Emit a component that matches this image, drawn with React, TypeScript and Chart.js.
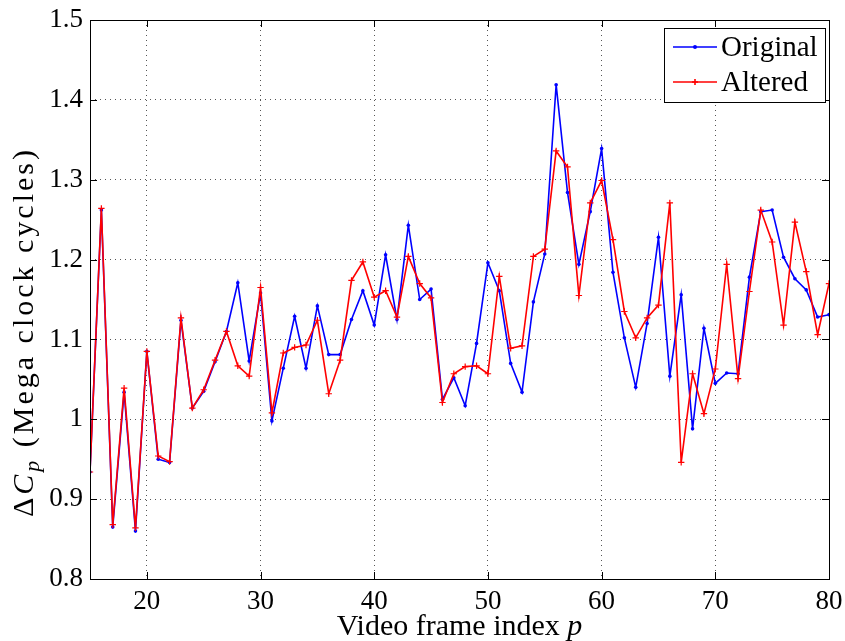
import React, { useEffect, useRef } from "react";
import { Chart, registerables } from "chart.js";

Chart.register(...registerables);

const frames = [15, 16, 17, 18, 19, 20, 21, 22, 23, 24, 25, 26, 27, 28, 29, 30, 31, 32, 33, 34, 35, 36, 37, 38, 39, 40, 41, 42, 43, 44, 45, 46, 47, 48, 49, 50, 51, 52, 53, 54, 55, 56, 57, 58, 59, 60, 61, 62, 63, 64, 65, 66, 67, 68, 69, 70, 71, 72, 73, 74, 75, 76, 77, 78, 79, 80];

const original = [0.934, 1.262, 0.865, 1.034, 0.860, 1.085, 0.950, 0.946, 1.124, 1.014, 1.035, 1.072, 1.110, 1.171, 1.073, 1.158, 0.998, 1.064, 1.129, 1.064, 1.142, 1.081, 1.081, 1.125, 1.161, 1.118, 1.206, 1.125, 1.243, 1.150, 1.163, 1.025, 1.052, 1.017, 1.095, 1.196, 1.161, 1.070, 1.034, 1.147, 1.207, 1.419, 1.284, 1.194, 1.260, 1.339, 1.184, 1.102, 1.040, 1.120, 1.228, 1.054, 1.156, 0.988, 1.114, 1.045, 1.058, 1.057, 1.178, 1.260, 1.262, 1.203, 1.176, 1.162, 1.128, 1.131];

const altered = [0.934, 1.264, 0.868, 1.039, 0.864, 1.085, 0.954, 0.947, 1.127, 1.014, 1.037, 1.074, 1.110, 1.067, 1.054, 1.165, 1.008, 1.083, 1.090, 1.093, 1.124, 1.032, 1.074, 1.174, 1.197, 1.153, 1.161, 1.128, 1.204, 1.170, 1.152, 1.021, 1.057, 1.066, 1.067, 1.057, 1.179, 1.089, 1.092, 1.204, 1.213, 1.336, 1.316, 1.155, 1.271, 1.299, 1.225, 1.135, 1.102, 1.127, 1.143, 1.271, 0.946, 1.057, 1.007, 1.063, 1.194, 1.051, 1.160, 1.262, 1.222, 1.118, 1.247, 1.185, 1.106, 1.170];

const xTicks = [20, 30, 40, 50, 60, 70, 80];
const yTicks = [0.8, 0.9, 1.0, 1.1, 1.2, 1.3, 1.4, 1.5];
const seriesNames = ["Original", "Altered"];
const xTitle = "Video frame index ";
const xTitleVar = "p";
const yTitleParts = ["\u0394", "C", "p", " (Mega clock cycles)"];

const SERIF = "'Liberation Serif', 'Times New Roman', serif";

const overlayPlugin = {
  id: "overlay",
  afterDraw(chart: any) {
    const ctx = chart.ctx as CanvasRenderingContext2D;
    const { left, right, top, bottom } = chart.chartArea;
    const xs = chart.scales.x;
    const ys = chart.scales.y;
    ctx.save();
    ctx.strokeStyle = "#000";
    ctx.lineWidth = 1;
    ctx.strokeRect(Math.round(left) + 0.5, Math.round(top) + 0.5, Math.round(right - left), Math.round(bottom - top));
    const tl = 7;
    ctx.beginPath();
    xTicks.forEach((v) => {
      const px = Math.round(xs.getPixelForValue(v)) + 0.5;
      ctx.moveTo(px, bottom);
      ctx.lineTo(px, bottom - tl);
      ctx.moveTo(px, top);
      ctx.lineTo(px, top + tl);
    });
    yTicks.forEach((v) => {
      const py = Math.round(ys.getPixelForValue(v)) + 0.5;
      ctx.moveTo(left, py);
      ctx.lineTo(left + tl, py);
      ctx.moveTo(right, py);
      ctx.lineTo(right - tl, py);
    });
    ctx.stroke();

    // x title
    ctx.fillStyle = "#000";
    ctx.textBaseline = "alphabetic";
    const xf = 30;
    ctx.font = `${xf}px ${SERIF}`;
    const w1 = ctx.measureText(xTitle).width;
    ctx.font = `italic ${xf}px ${SERIF}`;
    const w2 = ctx.measureText(xTitleVar).width;
    const cx = (left + right) / 2;
    const sx = cx - (w1 + w2) / 2;
    ctx.font = `${xf}px ${SERIF}`;
    ctx.textAlign = "left";
    ctx.fillText(xTitle, sx, 635);
    ctx.font = `italic ${xf}px ${SERIF}`;
    ctx.fillText(xTitleVar, sx + w1, 635);

    // y title (rotated)
    ctx.save();
    ctx.translate(33, 517);
    ctx.rotate(-Math.PI / 2);
    const yf = 30;
    const fonts = [`${yf}px ${SERIF}`, `italic ${yf}px ${SERIF}`, `italic ${Math.round(yf * 0.72)}px ${SERIF}`, `${yf}px ${SERIF}`];
    const offs = [0, 0, 6, 0];
    const widths = yTitleParts.map((t, i) => {
      ctx.font = fonts[i];
      return ctx.measureText(t).width;
    });
    const total = widths.reduce((a, b) => a + b, 0);
    const target = 370;
    const nChars = yTitleParts.join("").length;
    const ls = Math.max(0, (target - total) / nChars);
    let pos = 0;
    yTitleParts.forEach((t, i) => {
      ctx.font = fonts[i];
      for (const ch of t) {
        ctx.fillText(ch, pos, offs[i]);
        pos += ctx.measureText(ch).width + ls;
      }
    });
    ctx.restore();

    // legend
    const lx0 = 664, ly0 = 28, lx1 = 825, ly1 = 102;
    ctx.fillStyle = "#fff";
    ctx.fillRect(lx0, ly0, lx1 - lx0, ly1 - ly0);
    ctx.strokeStyle = "#000";
    ctx.lineWidth = 1;
    ctx.strokeRect(lx0 + 0.5, ly0 + 0.5, lx1 - lx0, ly1 - ly0);
    const rows = [
      { y: 47, color: "#0000ff", marker: "dot" },
      { y: 82, color: "#ff0000", marker: "plus" },
    ];
    rows.forEach((r, i) => {
      ctx.strokeStyle = r.color;
      ctx.lineWidth = 1.6;
      ctx.beginPath();
      ctx.moveTo(673, r.y);
      ctx.lineTo(717, r.y);
      ctx.stroke();
      const mx = 695;
      if (r.marker === "dot") {
        ctx.fillStyle = r.color;
        ctx.beginPath();
        ctx.arc(mx, r.y, 2, 0, Math.PI * 2);
        ctx.fill();
      } else {
        ctx.beginPath();
        ctx.moveTo(mx - 3, r.y);
        ctx.lineTo(mx + 3, r.y);
        ctx.moveTo(mx, r.y - 3);
        ctx.lineTo(mx, r.y + 3);
        ctx.stroke();
      }
      ctx.fillStyle = "#000";
      ctx.font = `29px ${SERIF}`;
      ctx.textBaseline = "middle";
      ctx.textAlign = "left";
      ctx.fillText(seriesNames[i], 721, r.y + 1);
    });
    ctx.restore();
  },
};

export default function App() {
  const ref = useRef<HTMLCanvasElement | null>(null);
  useEffect(() => {
    if (!ref.current) return;
    const chart = new Chart(ref.current, {
      type: "line",
      data: {
        datasets: [
          {
            label: seriesNames[0],
            data: frames.map((f, i) => ({ x: f, y: original[i] })),
            borderColor: "#0000ff",
            backgroundColor: "#0000ff",
            borderWidth: 1.6,
            pointStyle: "circle",
            pointRadius: 1.8,
            pointBorderWidth: 0,
            pointHoverRadius: 1.8,
            tension: 0,
            order: 2,
          },
          {
            label: seriesNames[1],
            data: frames.map((f, i) => ({ x: f, y: altered[i] })),
            borderColor: "#ff0000",
            backgroundColor: "#ff0000",
            borderWidth: 1.6,
            pointStyle: "cross",
            pointRadius: 3.2,
            pointBorderWidth: 1.2,
            pointHoverRadius: 3.2,
            tension: 0,
            order: 1,
          },
        ],
      },
      options: {
        animation: false,
        responsive: false,
        events: [],
        layout: { padding: { left: 0, top: 20, right: 16, bottom: 0 } },
        plugins: { legend: { display: false }, tooltip: { enabled: false }, title: { display: false } },
        scales: {
          x: {
            type: "linear",
            min: 15,
            max: 80,
            afterBuildTicks: (s: any) => {
              s.ticks = xTicks.map((v) => ({ value: v }));
            },
            afterFit: (s: any) => {
              s.height = 62;
              s.paddingLeft = 0;
              s.paddingRight = 0;
            },
            border: { display: false, dash: [1, 4] },
            grid: { color: "#555", lineWidth: 1, drawTicks: false },
            ticks: {
              color: "#000",
              font: { family: SERIF, size: 27 },
              padding: 7,
              maxRotation: 0,
              autoSkip: false,
              callback: (v: any) => String(v),
            },
          },
          y: {
            type: "linear",
            min: 0.8,
            max: 1.5,
            afterBuildTicks: (s: any) => {
              s.ticks = yTicks.map((v) => ({ value: v }));
            },
            afterFit: (s: any) => {
              s.width = 90;
              s.paddingTop = 0;
              s.paddingBottom = 0;
            },
            border: { display: false, dash: [1, 4] },
            grid: { color: "#555", lineWidth: 1, drawTicks: false },
            ticks: {
              color: "#000",
              font: { family: SERIF, size: 27 },
              padding: 7,
              autoSkip: false,
              callback: (v: any) => String(Number(Number(v).toFixed(1))),
            },
          },
        },
      },
      plugins: [overlayPlugin],
    } as any);
    return () => chart.destroy();
  }, []);
  return (
    <div style={{ position: "fixed", left: 0, top: 0, width: 845, height: 641, background: "#fff" }}>
      <canvas ref={ref} width={845} height={641} style={{ width: 845, height: 641, display: "block" }} />
    </div>
  );
}
